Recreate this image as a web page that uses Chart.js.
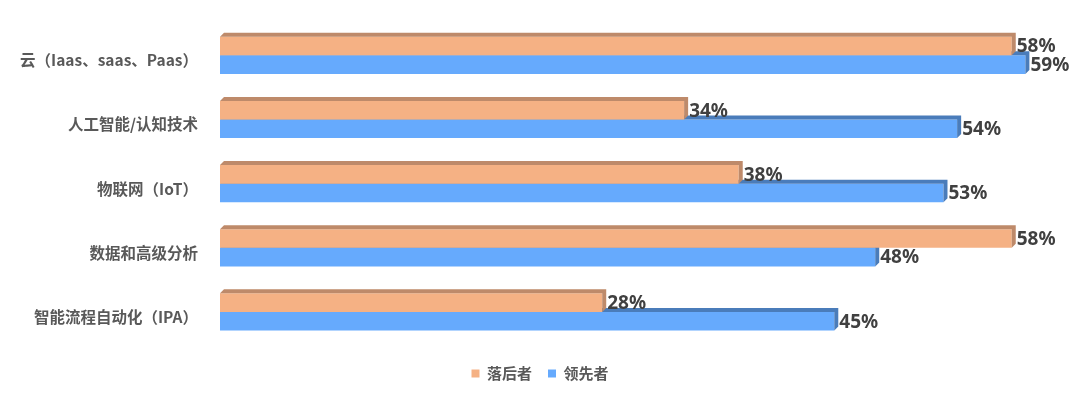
<!DOCTYPE html>
<html>
<head>
<meta charset="utf-8">
<script src="https://cdn.jsdelivr.net/npm/chart.js@4/dist/chart.umd.min.js"></script>
<style>
  html, body { margin: 0; padding: 0; background: #fff; }
  #wrap { width: 1080px; height: 395px; }
</style>
</head>
<body>
<div id="wrap"><canvas id="Chart1"></canvas></div>
<script>
// categories and series values
var categories = ["云（Iaas、saas、Paas）", "人工智能/认知技术", "物联网（IoT）", "数据和高级分析", "智能流程自动化（IPA）"];
var seriesNames = ["落后者", "领先者"];
var laggards = [58, 34, 38, 58, 28];
var leaders = [59, 54, 53, 48, 45];

var faceColors = ["#F5B184", "#66AAFD"];
var edgeColors = ["#BE8A6A", "#4A7CBA"];
var depth = 4;

// fake 3D: top and right faces on each bar, plus value labels
var bar3d = {
    id: 'bar3d',
    afterDatasetDraw: function(chart, args) {
        var ctx = chart.ctx;
        var i = args.index;
        ctx.save();
        ctx.fillStyle = edgeColors[i];
        args.meta.data.forEach(function(bar) {
            var p = bar.getProps(['x', 'y', 'base', 'height'], true);
            var top = p.y - p.height / 2, bottom = p.y + p.height / 2;
            ctx.beginPath();
            ctx.moveTo(p.base, top);
            ctx.lineTo(p.base + depth, top - depth);
            ctx.lineTo(p.x + depth, top - depth);
            ctx.lineTo(p.x + depth, bottom - depth);
            ctx.lineTo(p.x, bottom);
            ctx.lineTo(p.x, top);
            ctx.closePath();
            ctx.fill();
        });
        ctx.restore();
    },
    afterDatasetsDraw: function(chart) {
        var ctx = chart.ctx;
        ctx.save();
        ctx.font = "bold 19px 'Noto Sans', sans-serif";
        ctx.fillStyle = "#404040";
        ctx.textAlign = "left";
        ctx.textBaseline = "middle";
        chart.data.datasets.forEach(function(ds, i) {
            chart.getDatasetMeta(i).data.forEach(function(bar, j) {
                ctx.fillText(ds.data[j] + "%", bar.x + depth + 1, bar.y + 1);
            });
        });
        ctx.restore();
    }
};

document.addEventListener("DOMContentLoaded", function() {
    new Chart(document.getElementById('Chart1'), {
        type: 'bar',
        plugins: [bar3d],
        data: {
            labels: categories,
            datasets: [{
                label: seriesNames[0],
                data: laggards,
                backgroundColor: faceColors[0]
            }, {
                label: seriesNames[1],
                data: leaders,
                backgroundColor: faceColors[1]
            }]
        },
        options: {
            indexAxis: 'y',
            responsive: true,
            maintainAspectRatio: false,
            animation: false,
            layout: {
                padding: { top: 9, right: 0, left: 0, bottom: 4 }
            },
            datasets: {
                bar: {
                    barPercentage: 1,
                    categoryPercentage: 0.58
                }
            },
            scales: {
                x: {
                    display: false,
                    min: 0,
                    max: 63
                },
                y: {
                    grid: { display: false },
                    border: { display: false },
                    afterFit: function(scale) { scale.width = 220; },
                    ticks: {
                        padding: 14,
                        labelOffset: 5,
                        color: "#595959",
                        font: { family: "'Noto Sans CJK SC', sans-serif", size: 15.5, weight: 'bold' }
                    }
                }
            },
            plugins: {
                tooltip: { enabled: false },
                legend: {
                    position: 'bottom',
                    title: {
                        display: true,
                        text: '',
                        padding: 0,
                        font: { size: 6, lineHeight: 1 }
                    },
                    labels: {
                        boxWidth: 8,
                        boxHeight: 8,
                        padding: 16,
                        color: "#595959",
                        font: { family: "'Noto Sans CJK SC', sans-serif", size: 15, weight: 'bold' }
                    }
                }
            }
        }
    });
});
</script>
</body>
</html>
